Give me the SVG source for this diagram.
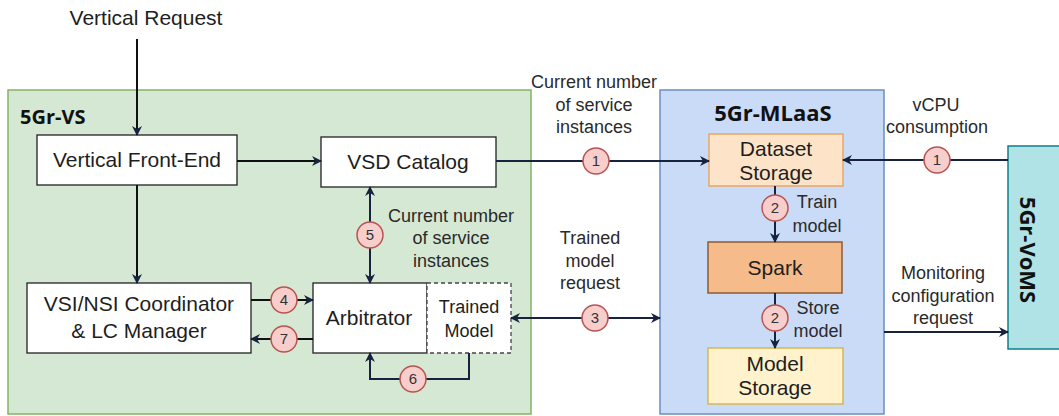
<svg xmlns="http://www.w3.org/2000/svg" width="1059" height="416" viewBox="0 0 1059 416">
  <style>
    text { font-family: "Liberation Sans", Arial, sans-serif; fill: #1e1e1e; }
    .box { font-size: 21px; text-anchor: middle; }
    .small { font-size: 18px; text-anchor: middle; }
    .lbl { font-size: 18px; text-anchor: middle; fill: #2a2a2a; }
    .title { font-family: "Open Sans", "Noto Sans", sans-serif; font-weight: bold; font-size: 20px; fill: #111; }
    .num { font-size: 15px; text-anchor: middle; fill: #333; }
    .wbox { fill: #ffffff; stroke: #222; stroke-width: 1.3; }
    .badge { fill: #f8cecc; stroke: #b85450; stroke-width: 1.5; }
    .blk { fill: none; stroke: #111; stroke-width: 2; }
    .nav { fill: none; stroke: #17223f; stroke-width: 2; }
  </style>
  <defs>
    <marker id="an" viewBox="0 0 10 10" refX="9" refY="5" markerWidth="12" markerHeight="10" markerUnits="userSpaceOnUse" orient="auto-start-reverse" overflow="visible">
      <path d="M0,0 L10,5 L0,10 L3,5 Z" fill="#17223f"/>
    </marker>
  </defs>

  <!-- container: 5Gr-VS -->
  <g id="vs">
    <rect x="8" y="90" width="523" height="324" fill="#d5e8d4" stroke="#82b366" stroke-width="1.5"/>
    <text class="title" x="20" y="124">5Gr-VS</text>
  </g>

  <!-- container: 5Gr-MLaaS -->
  <g id="mlaas">
    <rect x="660" y="90" width="224" height="324" fill="#c9dbf7" stroke="#6c8ebf" stroke-width="1.5"/>
    <text class="title" x="773" y="121" text-anchor="middle" style="font-size:22px">5Gr-MLaaS</text>
  </g>

  <!-- 5Gr-VoMS -->
  <g id="voms">
    <rect x="1008" y="146" width="56" height="203" fill="#b0e3e6" stroke="#0e8088" stroke-width="1.5"/>
    <text class="title" transform="translate(1020 250) rotate(90)" text-anchor="middle" style="font-size:22px">5Gr-VoMS</text>
  </g>

  <g id="vertical-request">
    <text class="box" x="146" y="25">Vertical Request</text>
  </g>

  <g id="front-end">
    <rect class="wbox" x="37" y="135" width="200" height="50"/>
    <text class="box" x="137" y="167">Vertical Front-End</text>
  </g>

  <g id="vsd-catalog">
    <rect class="wbox" x="321" y="137" width="175" height="50"/>
    <text class="box" x="408" y="169">VSD Catalog</text>
  </g>

  <g id="coordinator">
    <rect class="wbox" x="27" y="283" width="224" height="70"/>
    <text class="box" x="139" y="311">VSI/NSI Coordinator</text>
    <text class="box" x="139" y="338">&amp; LC Manager</text>
  </g>

  <g id="arbitrator">
    <rect class="wbox" x="313" y="283" width="114" height="70"/>
    <text class="box" x="369" y="325">Arbitrator</text>
  </g>

  <g id="trained-model">
    <rect x="427" y="283" width="84" height="70" fill="#ffffff" stroke="#444" stroke-width="1.3" stroke-dasharray="4 3"/>
    <text class="small" x="469" y="313">Trained</text>
    <text class="small" x="469" y="337">Model</text>
  </g>

  <g id="dataset-storage">
    <rect x="709" y="134" width="134" height="52" fill="#fde4c8" stroke="#e9a663" stroke-width="1.5"/>
    <text class="box" x="776" y="156">Dataset</text>
    <text class="box" x="776" y="180">Storage</text>
  </g>

  <g id="spark">
    <rect x="708" y="242" width="134" height="51" fill="#f6bb8b" stroke="#8f5a33" stroke-width="1.5"/>
    <text class="box" x="775" y="275">Spark</text>
  </g>

  <g id="model-storage">
    <rect x="708" y="348" width="135" height="56" fill="#fff2cc" stroke="#d6b656" stroke-width="1.5"/>
    <text class="box" x="775" y="371">Model</text>
    <text class="box" x="775" y="395">Storage</text>
  </g>

  <!-- connectors -->
  <g id="connectors">
    <line class="blk" x1="137" y1="39" x2="137" y2="135" marker-end="url(#an)"/>
    <line class="blk" x1="237" y1="161" x2="321" y2="161" marker-end="url(#an)"/>
    <line class="blk" x1="137" y1="185" x2="137" y2="283" marker-end="url(#an)"/>
    <line class="nav" x1="370" y1="187" x2="370" y2="283" marker-start="url(#an)" marker-end="url(#an)"/>
    <line class="blk" x1="251" y1="300" x2="313" y2="300" marker-end="url(#an)"/>
    <line class="blk" x1="313" y1="339" x2="251" y2="339" marker-end="url(#an)"/>
    <path class="nav" d="M469 353 V379 H370 V353" marker-end="url(#an)"/>
    <line class="nav" x1="496" y1="161" x2="709" y2="161" marker-end="url(#an)"/>
    <line class="nav" x1="511" y1="318" x2="660" y2="318" marker-start="url(#an)" marker-end="url(#an)"/>
    <line class="nav" x1="1008" y1="160" x2="843" y2="160" marker-end="url(#an)"/>
    <line class="nav" x1="775" y1="186" x2="775" y2="242" marker-end="url(#an)"/>
    <line class="nav" x1="775" y1="293" x2="775" y2="348" marker-end="url(#an)"/>
    <line class="nav" x1="884" y1="332" x2="1008" y2="332" marker-end="url(#an)"/>

    <!-- step badges -->
    <circle class="badge" cx="596" cy="161" r="13"/><text class="num" x="596" y="166">1</text>
    <circle class="badge" cx="937" cy="160" r="13"/><text class="num" x="937" y="165">1</text>
    <circle class="badge" cx="775" cy="208" r="13"/><text class="num" x="775" y="213">2</text>
    <circle class="badge" cx="775" cy="318" r="13"/><text class="num" x="775" y="323">2</text>
    <circle class="badge" cx="595" cy="318" r="13"/><text class="num" x="595" y="323">3</text>
    <circle class="badge" cx="284" cy="300" r="13"/><text class="num" x="284" y="305">4</text>
    <circle class="badge" cx="370" cy="235" r="13"/><text class="num" x="370" y="240">5</text>
    <circle class="badge" cx="413" cy="379" r="13"/><text class="num" x="413" y="384">6</text>
    <circle class="badge" cx="284" cy="339" r="13"/><text class="num" x="284" y="344">7</text>

    <!-- connector labels -->
    <text class="lbl" x="594" y="88">Current number</text>
    <text class="lbl" x="594" y="111">of service</text>
    <text class="lbl" x="594" y="133">instances</text>

    <text class="lbl" x="451" y="222">Current number</text>
    <text class="lbl" x="451" y="244">of service</text>
    <text class="lbl" x="451" y="267">instances</text>

    <text class="lbl" x="590" y="244">Trained</text>
    <text class="lbl" x="590" y="267">model</text>
    <text class="lbl" x="590" y="289">request</text>

    <text class="lbl" x="817" y="208">Train</text>
    <text class="lbl" x="817" y="232">model</text>
    <text class="lbl" x="818" y="314">Store</text>
    <text class="lbl" x="818" y="337">model</text>

    <text class="lbl" x="936" y="111">vCPU</text>
    <text class="lbl" x="937" y="133">consumption</text>

    <text class="lbl" x="943" y="279">Monitoring</text>
    <text class="lbl" x="943" y="302">configuration</text>
    <text class="lbl" x="943" y="324">request</text>
  </g>
</svg>
